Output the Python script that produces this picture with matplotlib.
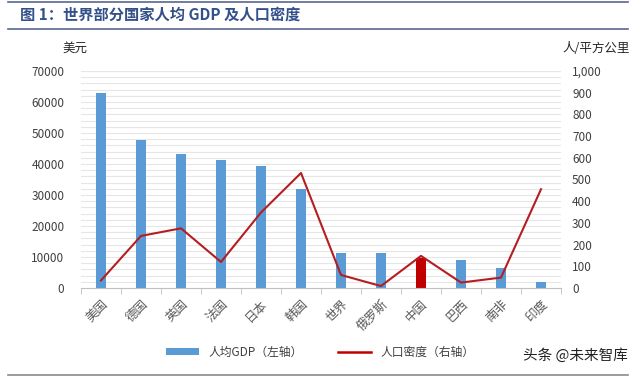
import matplotlib
matplotlib.use("Agg")
import matplotlib.pyplot as plt
from matplotlib.lines import Line2D
from matplotlib.patches import Patch
from matplotlib.ticker import FuncFormatter, MultipleLocator
import numpy as np

plt.rcParams['font.family'] = ['Noto Sans CJK SC', 'DejaVu Sans']

countries = ['美国', '德国', '英国', '法国', '日本', '韩国', '世界', '俄罗斯', '中国', '巴西', '南非', '印度']
gdp_per_capita = [62900, 47700, 43200, 41300, 39300, 31900, 11300, 11300, 9800, 9000, 6400, 1900]
pop_density = [35, 240, 275, 120, 348, 530, 60, 9, 148, 25, 48, 455]
highlight = '中国'

bar_blue = '#5B9BD5'
dark_red = '#C00000'
line_red = '#B41E22'
text_gray = '#404040'

fig = plt.figure(figsize=(6.4, 3.77), dpi=100)
ax = fig.add_axes([81/640, 1-288/377, 480/640, (288-71)/377])
ax2 = ax.twinx()

x = np.arange(len(countries))
colors = [dark_red if c == highlight else bar_blue for c in countries]
ax.bar(x, gdp_per_capita, width=0.27, color=colors, zorder=2)
ax2.plot(x, pop_density, color=line_red, lw=1.5, zorder=3)

ax.set_ylim(0, 70000)
ax2.set_ylim(0, 1000)
ax.set_xlim(-0.5, len(countries) - 0.5)
ax.yaxis.set_major_locator(MultipleLocator(10000))
ax2.yaxis.set_major_locator(MultipleLocator(100))
ax2.yaxis.set_major_formatter(FuncFormatter(lambda v, p: f'{int(v):,}'))

# light gridlines
for yv in np.arange(2000, 70001, 2000):
    ax.axhline(yv, color='#E6E6E6', lw=0.8, zorder=0)

for a in (ax, ax2):
    for s in ('top', 'left', 'right'):
        a.spines[s].set_visible(False)
    a.tick_params(axis='y', length=0, labelsize=8.5, colors=text_gray)
ax2.spines['bottom'].set_visible(False)
ax.spines['bottom'].set_color('#BFBFBF')

ax.set_xticks(x)
ax.set_xticklabels(countries, rotation=45, ha='right', rotation_mode='anchor',
                   fontsize=9, color='#595959')
ax.tick_params(axis='x', length=0, pad=7)
ax.set_xticks(np.arange(-0.5, len(countries), 1), minor=True)
ax.tick_params(axis='x', which='minor', length=4, color='#BFBFBF')
ax.tick_params(axis='y', pad=12)
ax2.tick_params(axis='y', pad=8)

# axis unit labels
fig.text(62/640, 1-48/377, '美元', fontsize=9, color='#262626', va='center', ha='left')
fig.text(630/640, 1-48/377, '人/平方公里', fontsize=9, color='#262626', va='center', ha='right')

# title and rules
fig.text(20/640, 1-15/377, '图 1：世界部分国家人均 GDP 及人口密度', fontsize=11,
         color='#34508A', va='center', ha='left', fontweight='bold')
fig.add_artist(Line2D([8/640, 628/640], [1-2/377, 1-2/377], color='#5A6690', lw=1.2))
fig.add_artist(Line2D([8/640, 628/640], [1-29/377, 1-29/377], color='#5A6690', lw=1.2))
fig.add_artist(Line2D([8/640, 628/640], [1-375/377, 1-375/377], color='#8A8A8A', lw=1.2))

handles = [Patch(facecolor=bar_blue, edgecolor='none'),
           Line2D([0], [0], color=dark_red, lw=1.8)]
fig.legend(handles, ['人均GDP（左轴）', '人口密度（右轴）'], loc='center',
           bbox_to_anchor=(0.5, 1-352/377), ncol=2, frameon=False, fontsize=8.5,
           labelcolor='#404040', handlelength=2.8, handleheight=0.6, columnspacing=3)

fig.text(628/640, 1-356/377, '头条 @未来智库', fontsize=10.5, color='#222222',
         va='center', ha='right')

fig.savefig('out.png', dpi=100)
